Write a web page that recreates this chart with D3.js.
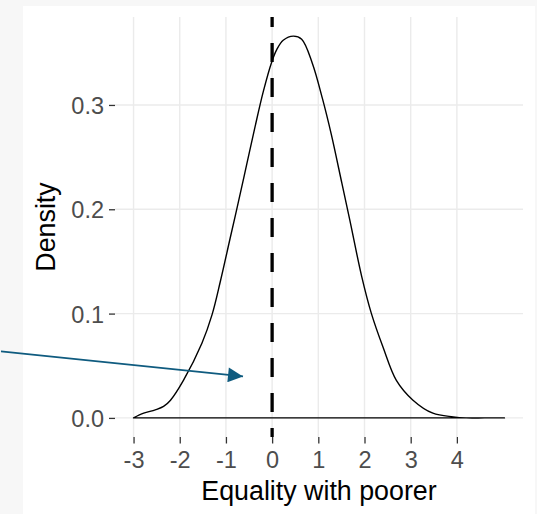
<!DOCTYPE html>
<html>
<head>
	<title>Equality with poorer</title>
	<style type="text/css">
		html, body {
			margin: 0;
			padding: 0;
			background: #f7f7f7;
		}
		svg text {
			font-family: "Liberation Sans", Arial, sans-serif;
		}
		.grid line {
			stroke: #ebebeb;
			stroke-width: 1.4;
		}
		.tick-label {
			fill: #4d4d4d;
			font-size: 23.5px;
		}
		.axis-title {
			fill: #000;
			font-size: 26.8px;
		}
	</style>
</head>
<body>
	<div id="chart"></div>
	<script src="https://cdnjs.cloudflare.com/ajax/libs/d3/7.8.5/d3.min.js"></script>
	<script type="text/javascript">
		// density estimate
		var densX = [-3.0, -2.78, -2.53, -2.35, -2.20, -1.92, -1.52, -1.30, -1.12, -0.91, -0.73, -0.55, -0.37, -0.19, -0.01, 0.10, 0.24, 0.46, 0.64, 0.87, 1.09, 1.28, 1.51, 1.68, 1.94, 2.15, 2.40, 2.69, 3.05, 3.48, 3.92, 4.20, 4.60, 5.03];
		var densY = [0.0, 0.0045, 0.0077, 0.011, 0.017, 0.036, 0.0716, 0.099, 0.131, 0.172, 0.207, 0.243, 0.279, 0.313, 0.341, 0.353, 0.362, 0.366, 0.363, 0.340, 0.306, 0.272, 0.225, 0.190, 0.1355, 0.100, 0.068, 0.036, 0.017, 0.0045, 0.001, 0.0, 0.0, 0.0];

		var xTicks = [-3, -2, -1, 0, 1, 2, 3, 4];
		var yTicks = [0.0, 0.1, 0.2, 0.3];
		var yTickLabels = ["0.0", "0.1", "0.2", "0.3"];

		var refLine = [0];
		// annotation arrow, in data units: [x, y] start and end
		var arrowFrom = [-5.87, 0.0638];
		var arrowTo = [-0.63, 0.0398];

		var width = 537,
			height = 514;

		var panel = {left: 115, right: 523, top: 17, bottom: 437};

		var svg = d3.select('#chart')
					.append('svg')
					.attr('width', width)
					.attr('height', height)
					.style('display', 'block');

		// white plot background
		svg.append('rect')
			.attr('x', 23)
			.attr('y', 6)
			.attr('width', 512)
			.attr('height', height - 6)
			.attr('fill', '#fff');

		// ggplot style 5% expansion
		var xMin = d3.min(densX), xMax = d3.max(densX),
			yMax = d3.max(densY);
		var xPad = (xMax - xMin) * 0.05,
			yPad = yMax * 0.05;

		var x = d3.scaleLinear()
				.domain([xMin - xPad, xMax + xPad])
				.range([panel.left, panel.right]),
			y = d3.scaleLinear()
				.domain([-yPad, yMax + yPad])
				.range([panel.bottom, panel.top]);

		// grid
		var grid = svg.append('g').attr('class', 'grid');
		grid.selectAll('line.v')
			.data(xTicks)
			.enter()
			.append('line')
			.attr('class', 'v')
			.attr('x1', function(d) { return x(d); })
			.attr('x2', function(d) { return x(d); })
			.attr('y1', panel.top)
			.attr('y2', panel.bottom);
		grid.selectAll('line.h')
			.data(yTicks)
			.enter()
			.append('line')
			.attr('class', 'h')
			.attr('x1', panel.left)
			.attr('x2', panel.right)
			.attr('y1', function(d) { return y(d); })
			.attr('y2', function(d) { return y(d); });

		// axes
		var xAxis = d3.axisBottom(x)
				.tickValues(xTicks)
				.tickSize(6.5)
				.tickPadding(7)
				.tickFormat(function(d) { return d < 0 ? '-' + Math.abs(d) : String(d); }),
			yAxis = d3.axisLeft(y)
				.tickValues(yTicks)
				.tickSize(6)
				.tickPadding(5)
				.tickFormat(function(d, i) { return yTickLabels[i]; });

		var gx = svg.append('g')
				.attr('transform', 'translate(0,' + panel.bottom + ')')
				.call(xAxis);
		var gy = svg.append('g')
				.attr('transform', 'translate(' + panel.left + ',0)')
				.call(yAxis);

		[gx, gy].forEach(function(g) {
			g.select('.domain').remove();
			g.selectAll('.tick line').attr('stroke', '#333').attr('stroke-width', 1.3);
			g.selectAll('.tick text')
				.attr('class', 'tick-label')
				.attr('font-family', null)
				.attr('font-size', null);
		});
		gx.selectAll('.tick text').attr('dy', '0.75em');
		gy.selectAll('.tick text').attr('dy', '0.36em');

		// dashed reference line
		svg.selectAll('line.ref')
			.data(refLine)
			.enter()
			.append('line')
			.attr('class', 'ref')
			.attr('x1', function(d) { return x(d); })
			.attr('x2', function(d) { return x(d); })
			.attr('y1', panel.top)
			.attr('y2', panel.bottom)
			.attr('stroke', '#000')
			.attr('stroke-width', 3.3)
			.attr('stroke-dasharray', '19,16')
			.attr('stroke-dashoffset', 9);

		// density outline (closed polygon like geom_density)
		var pts = densX.map(function(d, i) { return [d, densY[i]]; });
		var line = d3.line()
				.x(function(d) { return x(d[0]); })
				.y(function(d) { return y(d[1]); })
				.curve(d3.curveCatmullRom.alpha(0.5));
		svg.append('path')
			.attr('d', line(pts) + 'L' + x(xMax) + ',' + y(0) + 'L' + x(xMin) + ',' + y(0) + 'Z')
			.attr('fill', 'none')
			.attr('stroke', '#000')
			.attr('stroke-width', 1.4)
			.attr('stroke-linejoin', 'round');

		// arrow annotation
		var arrowCol = '#0f5b7f';
		svg.append('defs')
			.append('marker')
			.attr('id', 'head')
			.attr('viewBox', '0 0 10 10')
			.attr('refX', 10)
			.attr('refY', 5)
			.attr('markerUnits', 'userSpaceOnUse')
			.attr('markerWidth', 17)
			.attr('markerHeight', 15)
			.attr('orient', 'auto')
			.append('path')
			.attr('d', 'M0,0L10,5L0,10Z')
			.attr('fill', arrowCol);

		svg.append('line')
			.attr('x1', x(arrowFrom[0]))
			.attr('y1', y(arrowFrom[1]))
			.attr('x2', x(arrowTo[0]))
			.attr('y2', y(arrowTo[1]))
			.attr('stroke', arrowCol)
			.attr('stroke-width', 1.6)
			.attr('marker-end', 'url(#head)');

		// axis titles
		svg.append('text')
			.attr('class', 'axis-title')
			.attr('x', (panel.left + panel.right) / 2)
			.attr('y', 500)
			.attr('text-anchor', 'middle')
			.text('Equality with poorer');

		svg.append('text')
			.attr('class', 'axis-title')
			.attr('transform', 'translate(55,' + (panel.top + panel.bottom) / 2 + ') rotate(-90)')
			.attr('text-anchor', 'middle')
			.text('Density');
	</script>
</body>
</html>
